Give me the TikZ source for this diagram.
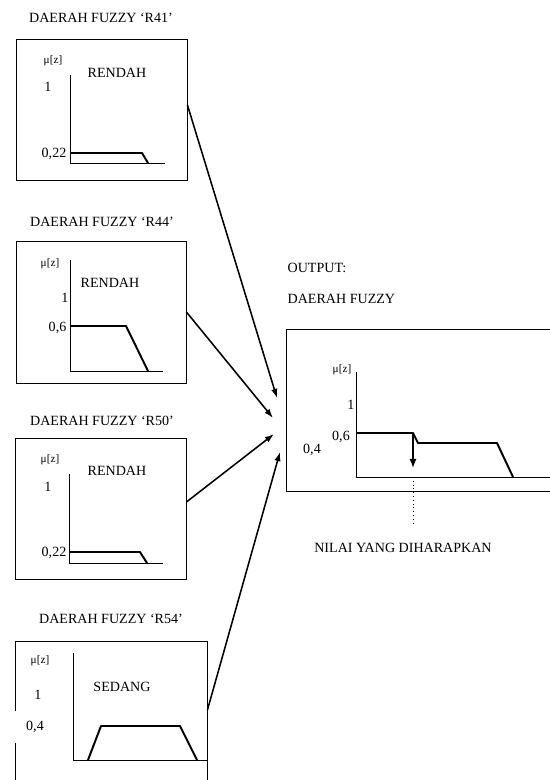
\documentclass[tikz,border=0pt]{standalone}
\usepackage{fontspec}
\setmainfont{Liberation Serif}
\usetikzlibrary{positioning, fit}
\usetikzlibrary{arrows.meta}

\tikzset{
  panel/.style={draw, line width=0.6pt, inner sep=0pt},
  axis/.style={line width=0.6pt},
  member/.style={line width=1.4pt, line join=round},
  feed/.style={-{Latex[length=2.3mm, width=1.6mm]}, line width=1.1pt},
  title/.style={font=\fontsize{10}{12}\selectfont, inner sep=1pt},
  lbl/.style={font=\fontsize{10}{12}\selectfont, inner sep=1pt},
  mu/.style={font=\fontsize{8}{10}\selectfont, inner sep=1pt}
}

\begin{document}
\begin{tikzpicture}[x=0.025cm, y=-0.025cm]
\useasboundingbox (0,0) rectangle (549,780);

% rule R41
\node[title] (t41) at (101,18) {DAERAH FUZZY ‘R41’};
\node[panel, fit={(16,39) (187,180)}] (b41) {};
\node[mu] (m41) at (53,61) {μ[z]};
\node[lbl] (r41) at (117,73) {RENDAH};
\node[lbl] (o41) at (48,87) {1};
\node[lbl, anchor=east] (v41) at (68,154) {0,22};
\draw[axis] (70,75) -- (70,163) -- (165,163);
\draw[member] (70,153) -- (142,153) -- (148,163);

% rule R44
\node[title] (t44) at (102,222) {DAERAH FUZZY ‘R44’};
\node[panel, fit={(16,241) (186,383)}] (b44) {};
\node[mu] (m44) at (50,264) {μ[z]};
\node[lbl] (r44) at (110,283) {RENDAH};
\node[lbl, anchor=east] (o44) at (70,298) {1};
\node[lbl, anchor=east] (v44) at (68,328) {0,6};
\draw[axis] (70,260) -- (70,371) -- (163,371);
\draw[member] (70,326) -- (126,326) -- (148,371);

% rule R50
\node[title] (t50) at (102,421) {DAERAH FUZZY ‘R50’};
\node[panel, fit={(15,438) (186,579)}] (b50) {};
\node[mu] (m50) at (50,460) {μ[z]};
\node[lbl] (r50) at (117,471) {RENDAH};
\node[lbl] (o50) at (48,487) {1};
\node[lbl, anchor=east] (v50) at (68,553) {0,22};
\draw[axis] (69,474) -- (69,563) -- (163,563);
\draw[member] (69,552) -- (140,552) -- (147,563);

% rule R54
\node[title] (t54) at (111,619) {DAERAH FUZZY ‘R54’};
\node[panel, fit={(15,641) (207,800)}] (b54) {};
\node[mu] (m54) at (40,661) {μ[z]};
\node[lbl] (r54) at (122,687) {SEDANG};
\node[lbl] (o54) at (38,695) {1};
\node[lbl, fill=white, minimum width=1.05cm, minimum height=0.78cm] (v54) at (35,727) {0,4};
\draw[axis] (73,653) -- (73,760) -- (207,760);
\draw[member] (88,760) -- (101,726) -- (180,726) -- (197,760);

% output
\node[lbl, anchor=west] (hd1) at (286,268) {OUTPUT:};
\node[lbl, anchor=west] (hd2) at (286,299) {DAERAH FUZZY};
\node[panel, fit={(286,329) (556,491)}] (bout) {};
\node[mu] (mout) at (342,370) {μ[z]};
\node[lbl, anchor=east] (oout) at (356,405) {1};
\node[lbl] (vout) at (341,437) {0,6};
\node[lbl] (wout) at (312,450) {0,4};
\draw[axis] (356,372) -- (356,477) -- (552,477);
\draw[member] (356,433) -- (413,433) -- (418,443) -- (497,443) -- (513,477);
\draw[-{Latex[length=2.3mm, width=1.8mm]}, line width=1pt] (413,433) -- (413,468);
\node[lbl] (nilai) at (403,548) {NILAI YANG DIHARAPKAN};
\coordinate (cut) at (413,477);
\coordinate (cutend) at (413,525);
\draw[dotted, line width=0.7pt] (cut) -- (cutend);

% arrows into the output
\coordinate (e41) at (277,398);
\coordinate (e44) at (273,418);
\coordinate (e50) at (274,434);
\coordinate (e54) at (280,452);
\draw[feed] (b41.east |- 0,105) -- (e41);
\draw[feed] (b44.east) -- (e44);
\draw[feed] (b50.east |- 0,502) -- (e50);
\draw[feed] (b54.east |- 0,710) -- (e54);
\end{tikzpicture}
\end{document}
